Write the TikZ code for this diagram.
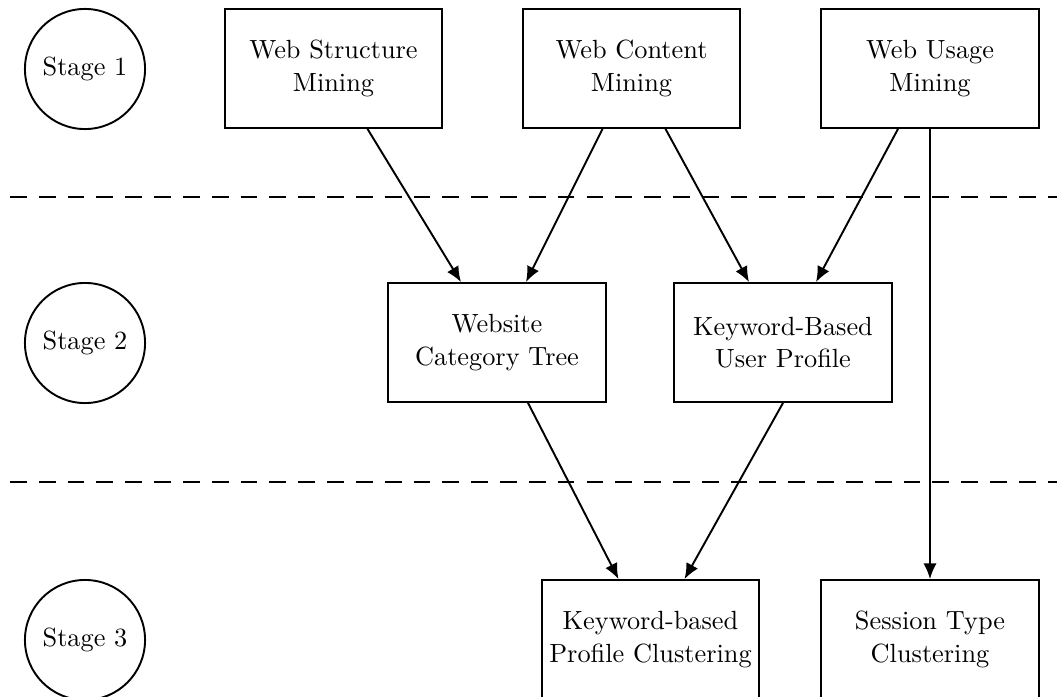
\documentclass[tikz,border=0pt]{standalone}
\usepackage{tikz}
\usetikzlibrary{arrows.meta}
\usetikzlibrary{calc}

\begin{document}
\begin{tikzpicture}[x=0.4163pt, y=-0.4163pt, thick, font=\fontsize{10.95}{13.6}\selectfont,
		stage/.style={draw, circle, minimum size=50pt, inner sep=0pt},
		block/.style={draw, rectangle, align=center, minimum width=90.4pt, minimum height=49.5pt, inner sep=2pt},
		arr/.style={-{Latex[length=6.5pt, width=5.5pt]}},
		sep/.style={dash pattern=on 7pt off 5pt, line width=1.1pt}]
	\useasboundingbox (0,0) rectangle (1057,697);
	\clip (0,0) rectangle (1057,697);

	% stages
	\node[stage] (s1) at (85, 69) {Stage 1};
	\node[stage] (s2) at (85, 343) {Stage 2};
	\node[stage] (s3) at (85, 640) {Stage 3};

	% separators
	\coordinate (l1) at (10, 197);
	\coordinate (r1) at (1057, 197);
	\coordinate (l2) at (10, 482);
	\coordinate (r2) at (1057, 482);
	\draw[sep] (l1) -- (r1);
	\draw[sep] (l2) -- (r2);

	% stage 1
	\node[block] (wsm) at (333.5, 68.5) {Web Structure\\Mining};
	\node[block] (wcm) at (631.5, 68.5) {Web Content\\Mining};
	\node[block] (wum) at (930, 68.5) {Web Usage\\Mining};

	% stage 2
	\node[block] (wct) at (497, 342.5) {Website\\Category Tree};
	\node[block] (kup) at (783, 342.5) {Keyword-Based\\User Profile};

	% stage 3
	\node[block] (kpc) at (650.5, 639.5) {Keyword-based\\Profile Clustering};
	\node[block] (stc) at (930, 639.5) {Session Type\\Clustering};

	\draw[arr] ($(wsm.south)+(34,0)$) -- ($(wct.north)+(-36,0)$);
	\draw[arr] ($(wcm.south)+(-29,0)$) -- ($(wct.north)+(29,0)$);
	\draw[arr] ($(wcm.south)+(34,0)$) -- ($(kup.north)+(-34,0)$);
	\draw[arr] ($(wum.south)+(-32,0)$) -- ($(kup.north)+(33,0)$);
	\draw[arr] (wum.south) -- (stc.north);
	\draw[arr] ($(wct.south)+(31,0)$) -- ($(kpc.north)+(-32,0)$);
	\draw[arr] (kup.south) -- ($(kpc.north)+(34,0)$);

\end{tikzpicture}
\end{document}
